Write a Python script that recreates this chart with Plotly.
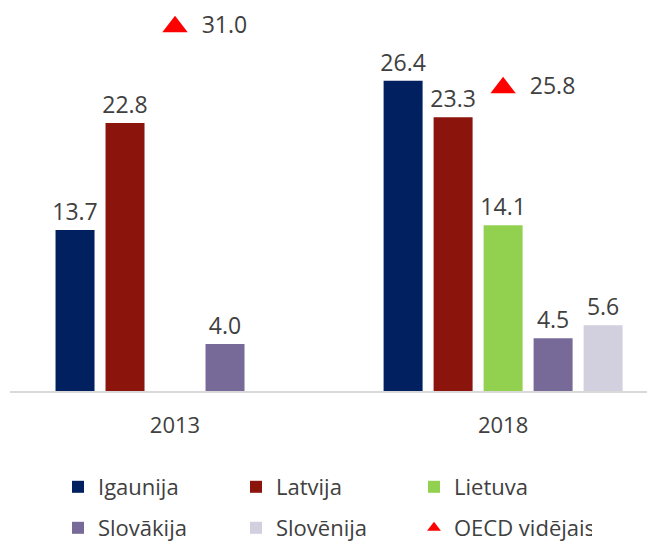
import plotly.graph_objects as go

years = ["2013", "2018"]
series_names = ["Igaunija", "Latvija", "Lietuva", "Slovākija", "Slovēnija"]
igaunija = [13.7, 26.4]
latvija = [22.8, 23.3]
lietuva = [None, 14.1]
slovakija = [4.0, 4.5]
slovenija = [None, 5.6]
oecd = [31.0, 25.8]
oecd_name = "OECD vidējais"

colors = ["#002060", "#8B140D", "#92D050", "#776A98", "#D2CFDF"]
values = [igaunija, latvija, lietuva, slovakija, slovenija]

FONT = "Open Sans"
TXT = "#404040"
W, H = 647, 533  # page body adds an 8px margin

fig = go.Figure()
for i, (name, vals, col) in enumerate(zip(series_names, values, colors)):
    fig.add_trace(go.Bar(
        x=years, y=vals, name=name, marker=dict(color=col, line=dict(width=0)),
        text=[("" if v is None else f"{v:.1f}") for v in vals],
        textposition="outside", cliponaxis=False, constraintext="none",
        textfont=dict(family=FONT, size=23, color=TXT),
        legend="legend" if i < 3 else "legend2",
    ))

fig.add_trace(go.Scatter(
    x=years, y=oecd, name=oecd_name, mode="markers+text",
    marker=dict(symbol="triangle-up", size=22, color="#FF0000"),
    text=[f"  {v:.1f}" for v in oecd], textposition="middle right",
    textfont=dict(family=FONT, size=23, color=TXT), cliponaxis=False,
    legend="legend2",
))

leg_common = dict(orientation="h", xref="container", yref="container",
                  x=50 / W, xanchor="left", yanchor="middle",
                  entrywidth=133, entrywidthmode="pixels",
                  font=dict(family=FONT, size=22, color=TXT), itemwidth=30,
                  bgcolor="rgba(0,0,0,0)", itemsizing="constant")

fig.update_layout(
    width=W, height=H,
    margin=dict(l=2, r=0, t=7, b=150, autoexpand=False),
    paper_bgcolor="white", plot_bgcolor="white",
    barmode="group", bargap=0.238, bargroupgap=0.22,
    font=dict(family=FONT, color=TXT),
    showlegend=True,
    legend=dict(**leg_common, y=1 - 479 / H),
    legend2=dict(**leg_common, y=1 - 520 / H),
)
fig.update_xaxes(type="category", range=[-0.503, 1.463], showline=True, linecolor="#D9D9D9",
                 linewidth=1.5, ticks="", showgrid=False,
                 tickfont=dict(family=FONT, size=22, color=TXT), ticklabelstandoff=14)
fig.update_yaxes(range=[0, 32], visible=False, showgrid=False)

fig.write_html("out.html")
